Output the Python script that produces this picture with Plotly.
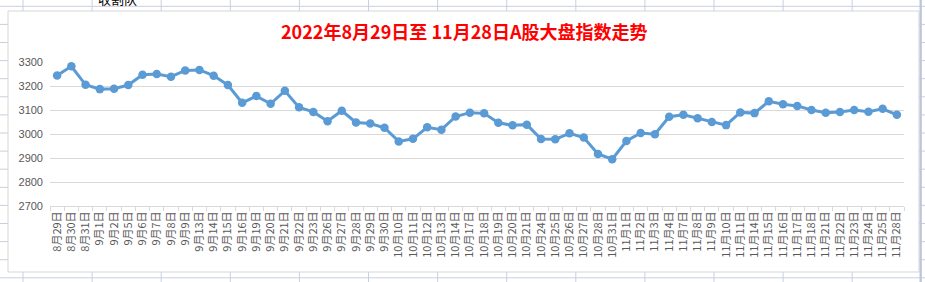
import plotly.graph_objects as go

dates = ["8月29日","8月30日","8月31日","9月1日","9月2日","9月5日","9月6日","9月7日","9月8日","9月9日",
         "9月13日","9月14日","9月15日","9月16日","9月19日","9月20日","9月21日","9月22日","9月23日","9月26日",
         "9月27日","9月28日","9月29日","9月30日","10月10日","10月11日","10月12日","10月13日","10月14日","10月17日",
         "10月18日","10月19日","10月20日","10月21日","10月24日","10月25日","10月26日","10月27日","10月28日","10月31日",
         "11月1日","11月2日","11月3日","11月4日","11月7日","11月8日","11月9日","11月10日","11月11日","11月14日",
         "11月15日","11月16日","11月17日","11月18日","11月21日","11月22日","11月23日","11月24日","11月25日","11月28日"]
index_values = [3244,3282,3205,3187,3189,3204,3247,3250,3239,3265,
                3267,3243,3204,3130,3158,3126,3180,3111,3092,3053,
                3097,3048,3044,3026,2969,2980,3028,3018,3073,3089,
                3086,3047,3036,3039,2979,2978,3003,2985,2917,2895,
                2971,3004,2999,3072,3080,3066,3050,3037,3090,3087,
                3136,3124,3117,3100,3089,3092,3100,3093,3105,3080]
y_ticks = [2700, 2800, 2900, 3000, 3100, 3200, 3300]
title_text = "2022年8月29日至 11月28日A股大盘指数走势"
cell_text = "收割队"

W, H = 925, 282
ML, MR, MT, MB = 50, 21, 62, 76
PW, PH = W - ML - MR, H - MT - MB

def px(x):
    return (x - ML) / PW

def py(y):
    return 1 - (y - MT) / PH

sheet = "#c7cfe2"
shapes = []
# spreadsheet row lines
r = 6.3
while r < H + 1:
    shapes.append(dict(type="line", xref="paper", yref="paper", x0=px(0), x1=px(W), y0=py(r), y1=py(r),
                       line=dict(color=sheet, width=1), layer="below"))
    r += 18.1
# spreadsheet column lines
c = 23
while c < W + 5:
    shapes.append(dict(type="line", xref="paper", yref="paper", x0=px(c), x1=px(c), y0=py(0), y1=py(H),
                       line=dict(color=sheet, width=1), layer="below"))
    c += 69.1
# chart box
shapes.append(dict(type="rect", xref="paper", yref="paper", x0=px(8), x1=px(919), y0=py(272), y1=py(11),
                   fillcolor="white", line=dict(color="#d6d6d6", width=1), layer="below"))
# right column line over chart border
shapes.append(dict(type="line", xref="paper", yref="paper", x0=px(920.5), x1=px(920.5), y0=py(0), y1=py(H),
                   line=dict(color="#bcc5da", width=2), layer="below"))

fig = go.Figure()
fig.add_trace(go.Scatter(
    x=dates, y=index_values, mode="lines+markers",
    line=dict(color="#5b9bd5", width=3),
    marker=dict(color="#5b9bd5", size=8.5),
    cliponaxis=False, showlegend=False,
))

fig.update_layout(
    width=W, height=H,
    margin=dict(l=ML, r=MR, t=MT, b=MB, autoexpand=False),
    paper_bgcolor="white", plot_bgcolor="rgba(0,0,0,0)",
    shapes=shapes,
    annotations=[
        dict(text="<b>" + title_text + "</b>", xref="paper", yref="paper", x=px(464), y=py(31),
             xanchor="center", yanchor="middle", showarrow=False,
             font=dict(family="Noto Sans CJK SC", size=18, color="#ff0000")),
        dict(text=cell_text, xref="paper", yref="paper", x=px(117), y=py(-1.5),
             xanchor="center", yanchor="middle", showarrow=False,
             font=dict(family="Noto Sans CJK SC", size=13, color="#000000")),
    ],
    xaxis=dict(
        type="category", tickangle=-90, tickson="boundaries",
        ticks="outside", ticklen=4, tickcolor="#d9d9d9",
        showline=True, linecolor="#d9d9d9", linewidth=1,
        showgrid=False, zeroline=False,
        tickfont=dict(family="Noto Sans CJK SC", size=11, color="#595959"),
        range=[-0.5, len(dates) - 0.5],
    ),
    yaxis=dict(
        range=[2700, 3300], tickvals=y_ticks, ticktext=[str(v) for v in y_ticks],
        showgrid=True, gridcolor="#d9d9d9", gridwidth=1,
        zeroline=False, showline=False, ticks="",
        ticklabelstandoff=6,
        tickfont=dict(family="Liberation Sans", size=11, color="#595959"),
    ),
)

fig.write_html("out.html")
